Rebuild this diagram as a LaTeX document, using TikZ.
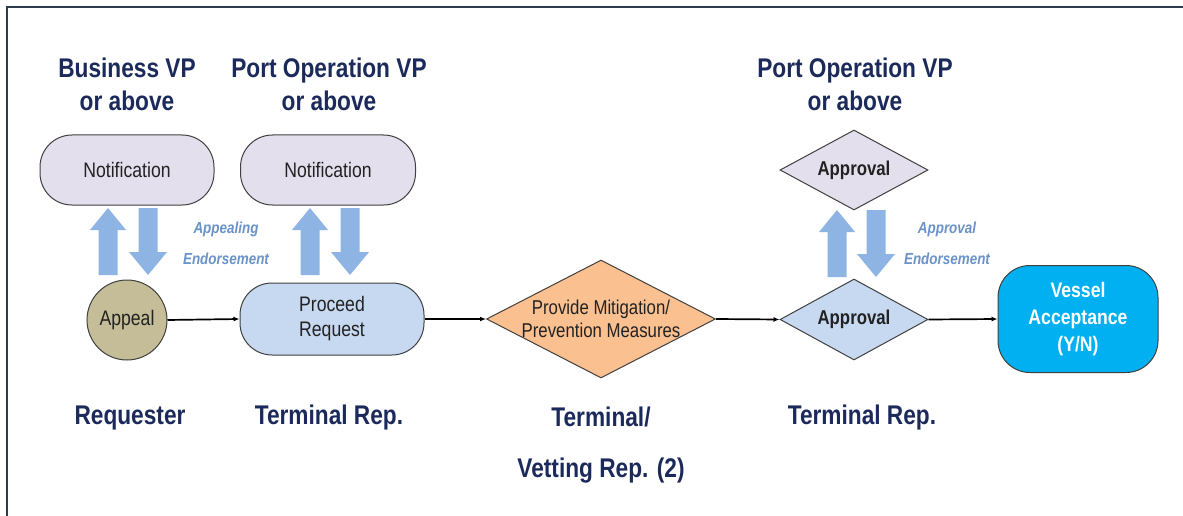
\documentclass[tikz,border=0pt]{standalone}
\usepackage{fontspec}
\setmainfont{Liberation Sans}[FakeStretch=0.84]
\usetikzlibrary{shapes.geometric,arrows.meta}
\definecolor{navy}{HTML}{1B2A5A}
\definecolor{lblue}{HTML}{6A93C9}
\definecolor{ablue}{HTML}{8DB4E2}
\definecolor{lavender}{HTML}{E4DFEC}
\definecolor{paleblue}{HTML}{C6D9F1}
\definecolor{khaki}{HTML}{C4BD97}
\definecolor{peach}{HTML}{FAC090}
\definecolor{cyanbox}{HTML}{00B0F0}
\definecolor{edge}{HTML}{404040}
\definecolor{txt}{HTML}{222222}
\definecolor{framec}{HTML}{2E3B4E}
\tikzset{
  uparr/.pic={\fill[ablue] (-9.5,67) -- (-9.5,22) -- (-18,22) -- (0,0) -- (18,22) -- (9.5,22) -- (9.5,67) -- cycle;},
  downarr/.pic={\fill[ablue] (-9.5,-67) -- (-9.5,-23) -- (-19,-23) -- (0,0) -- (19,-23) -- (9.5,-23) -- (9.5,-67) -- cycle;}
}
\begin{document}
\begin{tikzpicture}[x=1pt,y=-1pt,
  title/.style={font=\fontsize{27}{33}\selectfont\bfseries, text=navy, align=center, inner sep=0pt},
  role/.style={font=\fontsize{27}{33}\selectfont\bfseries, text=navy, anchor=base, inner sep=0pt},
  lbl/.style={font=\fontsize{16}{18}\selectfont\bfseries\itshape, text=lblue, inner sep=0pt},
  pill/.style={draw=edge, line width=1pt, rounded corners=32pt, text=txt, align=center, inner sep=0pt, font=\fontsize{21}{25}\selectfont},
  dia/.style={diamond, draw=edge, line width=1pt, inner sep=0pt},
  flow/.style={draw=black, line width=1.7pt, -{Latex[length=6pt,width=5pt]}}
]
\useasboundingbox (0,0) rectangle (1183,516);
\fill[white] (0,0) rectangle (1183,516);
\draw[framec, line width=2pt] (7,516) -- (7,7) -- (1183,7);

% titles
\node[title] (t1) at (127,84) {Business VP\\or above};
\node[title] (t2) at (329,84) {Port Operation VP\\or above};
\node[title] (t3) at (855,84) {Port Operation VP\\or above};

% top row
\node[pill, fill=lavender, minimum width=174pt, minimum height=70pt] (notif1) at (127,170) {Notification};
\node[pill, fill=lavender, minimum width=175pt, minimum height=70pt] (notif2) at (328,170) {Notification};
\node[dia, fill=lavender, minimum width=148pt, minimum height=80pt] (apprtop) at (854,170) {};
\node[font=\fontsize{20}{24}\selectfont\bfseries, text=txt, inner sep=0pt] (apprtoptext) at (apprtop) {Approval};

% block arrows
\pic at (108,208) {uparr};
\pic at (148,275) {downarr};
\pic at (310,208) {uparr};
\pic at (350,275) {downarr};
\pic at (837,210) {uparr};
\pic at (876,277) {downarr};

\node[lbl] (l1a) at (226,229) {Appealing};
\node[lbl] (l1b) at (226,259) {Endorsement};
\node[lbl] (l2a) at (947,229) {Approval};
\node[lbl] (l2b) at (947,259) {Endorsement};

% main row
\node[circle, draw=edge, line width=1pt, fill=khaki, minimum size=80pt, inner sep=0pt, text=txt, font=\fontsize{21}{25}\selectfont] (appeal) at (127,320) {Appeal};
\node[pill, fill=paleblue, minimum width=184pt, minimum height=72pt] (proceed) at (332,319) {Proceed\\Request};
\node[dia, fill=peach, minimum width=229pt, minimum height=118pt] (mit) at (601,319) {};
\node[text=txt, align=center, inner sep=0pt, font=\fontsize{20}{23}\selectfont] (mittext) at (mit) {Provide Mitigation/\\Prevention Measures};
\node[dia, fill=paleblue, minimum width=148pt, minimum height=81pt] (appr) at (854,319.5) {};
\node[font=\fontsize{20}{24}\selectfont\bfseries, text=txt, inner sep=0pt] (apprtext) at (appr) {Approval};
\node[draw=edge, line width=1pt, rounded corners=32pt, fill=cyanbox, minimum width=160pt, minimum height=107pt, text=white, align=center, inner sep=0pt, font=\fontsize{21}{27}\selectfont\bfseries] (vessel) at (1078,319) {Vessel\\Acceptance\\(Y/N)};

\draw[flow] (appeal.east) -- (proceed.west);
\draw[flow] (proceed.east) -- (mit.west);
\draw[flow] (mit.east) -- (appr.west);
\draw[flow] (appr.east) -- (vessel.west);

% roles
\node[role] (r1) at (130,424) {Requester};
\node[role] (r2) at (329,424) {Terminal Rep.};
\node[role] (r3) at (601,426) {Terminal/};
\node[role] (r3b) at (601,477) {Vetting Rep. (2)};
\node[role] (r4) at (862,424) {Terminal Rep.};
\end{tikzpicture}
\end{document}
